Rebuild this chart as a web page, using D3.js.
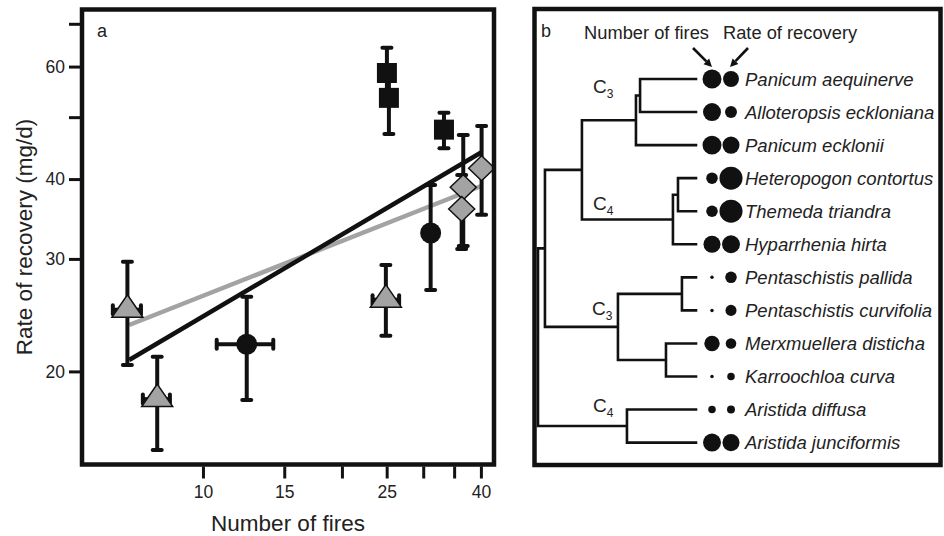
<!DOCTYPE html>
<html>
<head>
<meta charset="utf-8">
<script src="https://cdn.jsdelivr.net/npm/d3@7"></script>
<style>
  html, body { margin: 0; padding: 0; background: #fff; }
  svg { display: block; font-family: "Liberation Sans", Arial, Helvetica, sans-serif; }
</style>
</head>
<body>
<svg id="chart" width="944" height="536"></svg>
<script>
// ---------- Panel a: recovery rate vs. number of fires (log–log) ----------
const pointShape   = ["triangle", "triangle", "circle", "triangle", "square", "square", "circle", "square", "diamond", "diamond", "diamond"];
const fires        = [6.86, 7.96, 12.44, 24.9, 25.03, 25.28, 31.13, 33.27, 36.63, 36.34, 40.14];
const firesLow     = [6.38, 7.41, 10.71, 23.3, null, null, null, null, null, null, null];
const firesHigh    = [7.34, 8.48, 14.2, 26.6, null, null, null, null, null, null, null];
const recovery     = [24.98, 18.1, 22.06, 25.9, 58.63, 53.6, 32.93, 47.8, 38.85, 35.9, 41.6];
const recoveryLow  = [20.47, 15.07, 18.05, 22.75, 55.0, 47.06, 26.82, 44.7, 31.43, 31.1, 35.16];
const recoveryHigh = [29.7, 21.09, 26.18, 29.36, 64.2, 57.0, 39.17, 50.8, 46.9, 40.6, 48.45];

// fitted lines (end points)
const fitX        = [6.92, 40.2];
const fitAllY     = [20.84, 44.1];
const fitSubsetY  = [23.64, 39.05];

const xTickValues = [10, 15, 20, 25, 30, 35, 40];
const xTickLabels = [10, 15, 25, 40];
const yTickValues = [20, 30, 40, 50, 60, 70];
const yTickLabels = [20, 30, 40, 60];

// ---------- Panel b: phylogeny with trait dots ----------
const species = [
  "Panicum aequinerve", "Alloteropsis eckloniana", "Panicum ecklonii",
  "Heteropogon contortus", "Themeda triandra", "Hyparrhenia hirta",
  "Pentaschistis pallida", "Pentaschistis curvifolia", "Merxmuellera disticha",
  "Karroochloa curva", "Aristida diffusa", "Aristida junciformis"
];
// relative scores (0–100) shown as dot area
const fireScore     = [68, 61, 68, 25, 25, 55, 2.3, 2.3, 45, 2.3, 10.6, 61];
const recoveryScore = [48, 27, 55, 100, 100, 61, 25, 23, 21, 10.6, 12, 55];

// node depth h (0 = root, 1 = tips)
const tree = { h: 0, children: [
  { h: 0.044, children: [
    { h: 0.278, children: [
      { h: 0.62, children: [
        { h: 0.646, children: [{ name: "Panicum aequinerve" }, { name: "Alloteropsis eckloniana" }] },
        { name: "Panicum ecklonii" }
      ] },
      { h: 0.854, children: [
        { h: 0.886, children: [{ name: "Heteropogon contortus" }, { name: "Themeda triandra" }] },
        { name: "Hyparrhenia hirta" }
      ] }
    ] },
    { h: 0.506, children: [
      { h: 0.911, children: [{ name: "Pentaschistis pallida" }, { name: "Pentaschistis curvifolia" }] },
      { h: 0.81, children: [{ name: "Merxmuellera disticha" }, { name: "Karroochloa curva" }] }
    ] }
  ] },
  { h: 0.563, children: [{ name: "Aristida diffusa" }, { name: "Aristida junciformis" }] }
] };

const cladeLabels = [
  { sub: "3", x: 593, y: 93 },
  { sub: "4", x: 593, y: 210 },
  { sub: "3", x: 592, y: 315 },
  { sub: "4", x: 593, y: 412 }
];

const svg = d3.select("#chart");
const INK = "#111";
const TEXT = "#222";
const GREY = "#a3a3a3";

// =================== Panel a ===================
const A = { left: 82, top: 9.5, right: 494, bottom: 464.5 };
const x = d3.scaleLog().domain([5.47, 42.7]).range([A.left, A.right]);
const y = d3.scaleLog().domain([14.3, 73.7]).range([A.bottom, A.top]);

const pa = svg.append("g");

// axes (ticks outside the frame)
const xAxis = d3.axisBottom(x)
  .tickValues(xTickValues)
  .tickFormat(d => xTickLabels.includes(d) ? d : "")
  .tickSize(12).tickPadding(7);
const gx = pa.append("g").attr("transform", `translate(0,${A.bottom + 2})`).call(xAxis);
gx.select(".domain").remove();
gx.selectAll(".tick line").attr("stroke", INK).attr("stroke-width", 3);
gx.selectAll(".tick text").attr("fill", TEXT).attr("font-size", 17.5).attr("font-family", "Liberation Sans, Arial, sans-serif");

const yAxis = d3.axisLeft(y)
  .tickValues(yTickValues)
  .tickFormat(d => yTickLabels.includes(d) ? d : "")
  .tickSize(11).tickPadding(4);
const gy = pa.append("g").attr("transform", `translate(${A.left - 2},0)`).call(yAxis);
gy.select(".domain").remove();
gy.selectAll(".tick line").attr("stroke", INK).attr("stroke-width", 3);
gy.selectAll(".tick text").attr("fill", TEXT).attr("font-size", 17.5).attr("font-family", "Liberation Sans, Arial, sans-serif");

// axis titles
pa.append("text")
  .attr("x", (A.left + A.right) / 2).attr("y", 530.5)
  .attr("text-anchor", "middle").attr("font-size", 22.5).attr("fill", TEXT)
  .text("Number of fires");
pa.append("text")
  .attr("transform", `translate(32,${(A.top + A.bottom) / 2}) rotate(-90)`)
  .attr("text-anchor", "middle").attr("font-size", 22.5).attr("fill", TEXT)
  .text("Rate of recovery (mg/d)");

pa.append("text").attr("x", 97).attr("y", 37).attr("font-size", 18).attr("fill", TEXT).text("a");

// fitted lines
const fitLine = d3.line().x(d => x(d[0])).y(d => y(d[1]));
pa.append("path")
  .attr("d", fitLine(d3.zip(fitX, fitSubsetY)))
  .attr("stroke", GREY).attr("stroke-width", 4.5).attr("fill", "none");
pa.append("path")
  .attr("d", fitLine(d3.zip(fitX, fitAllY)))
  .attr("stroke", INK).attr("stroke-width", 4.5).attr("fill", "none");

// error bars
const points = fires.map((f, i) => ({
  f, r: recovery[i], fl: firesLow[i], fh: firesHigh[i],
  rl: recoveryLow[i], rh: recoveryHigh[i], shape: pointShape[i]
}));
const eb = pa.append("g").attr("stroke", INK).attr("fill", "none");
const CAP = 4.5;
points.forEach(p => {
  const cx = x(p.f), cy = y(p.r);
  eb.append("line").attr("x1", cx).attr("x2", cx).attr("y1", y(p.rl)).attr("y2", y(p.rh)).attr("stroke-width", 4);
  [p.rl, p.rh].forEach(v => {
    eb.append("line").attr("x1", cx - CAP).attr("x2", cx + CAP).attr("y1", y(v)).attr("y2", y(v))
      .attr("stroke-width", 4).attr("stroke-linecap", "round");
  });
  if (p.fl != null) {
    eb.append("line").attr("x1", x(p.fl)).attr("x2", x(p.fh)).attr("y1", cy).attr("y2", cy).attr("stroke-width", 4);
    [p.fl, p.fh].forEach(v => {
      eb.append("line").attr("x1", x(v)).attr("x2", x(v)).attr("y1", cy - CAP).attr("y2", cy + CAP)
        .attr("stroke-width", 4).attr("stroke-linecap", "round");
    });
  }
});

// marker shapes
const triangleType = { draw(c) { const w = 31, h = 22.5; c.moveTo(0, -2 * h / 3); c.lineTo(w / 2, h / 3); c.lineTo(-w / 2, h / 3); c.closePath(); } };
const diamondType  = { draw(c) { const a = 13, b = 12.5; c.moveTo(0, -b); c.lineTo(a, 0); c.lineTo(0, b); c.lineTo(-a, 0); c.closePath(); } };
const squareType   = { draw(c) { const s = 10; c.moveTo(-s, -s); c.lineTo(s, -s); c.lineTo(s, s); c.lineTo(-s, s); c.closePath(); } };
const circleType   = { draw(c) { const r = 10.5; c.moveTo(r, 0); c.arc(0, 0, r, 0, 2 * Math.PI); } };
const shapeStyle = {
  triangle: { type: triangleType, fill: GREY, stroke: INK },
  diamond:  { type: diamondType,  fill: GREY, stroke: INK },
  square:   { type: squareType,   fill: INK,  stroke: "none" },
  circle:   { type: circleType,   fill: INK,  stroke: "none" }
};
pa.append("g").selectAll("path").data(points).join("path")
  .attr("transform", d => `translate(${x(d.f)},${y(d.r)})`)
  .attr("d", d => d3.symbol().type(shapeStyle[d.shape].type)())
  .attr("fill", d => shapeStyle[d.shape].fill)
  .attr("stroke", d => shapeStyle[d.shape].stroke)
  .attr("stroke-width", 1.5);

// frame
pa.append("rect")
  .attr("x", A.left).attr("y", A.top)
  .attr("width", A.right - A.left).attr("height", A.bottom - A.top)
  .attr("fill", "none").attr("stroke", INK).attr("stroke-width", 4.5);

// =================== Panel b ===================
const B = { left: 534.5, top: 9, right: 940.5, bottom: 465 };
const pb = svg.append("g");
pb.append("rect")
  .attr("x", B.left).attr("y", B.top)
  .attr("width", B.right - B.left).attr("height", B.bottom - B.top)
  .attr("fill", "none").attr("stroke", INK).attr("stroke-width", 4.5);
pb.append("text").attr("x", 541).attr("y", 37).attr("font-size", 18).attr("fill", TEXT).text("b");

const tx = d3.scaleLinear().domain([0, 1]).range([538, 696]);
const ty = d3.scalePoint().domain(species).range([79, 442.6]);

const root = d3.hierarchy(tree);
root.eachAfter(n => {
  n.px = tx(n.children ? n.data.h : 1);
  n.py = n.children ? (n.children[0].py + n.children[n.children.length - 1].py) / 2 : ty(n.data.name);
});
const branches = [];
root.each(n => {
  if (n.parent) branches.push(`M${n.parent.px},${n.py}H${n.px}`);
  if (n.children) branches.push(`M${n.px},${n.children[0].py}V${n.children[n.children.length - 1].py}`);
});
pb.append("path")
  .attr("d", branches.join(""))
  .attr("fill", "none").attr("stroke", INK).attr("stroke-width", 2.6).attr("stroke-linecap", "square");

// trait dots
const col1 = 712, col2 = 731;
const rScale = d3.scaleSqrt().domain([0, 100]).range([0, 11.5]);
const dots = pb.append("g").attr("fill", INK);
species.forEach((s, i) => {
  dots.append("circle").attr("cx", col1).attr("cy", ty(s)).attr("r", rScale(fireScore[i]));
  dots.append("circle").attr("cx", col2).attr("cy", ty(s)).attr("r", rScale(recoveryScore[i]));
});

// species names
pb.append("g").selectAll("text").data(species).join("text")
  .attr("x", 745).attr("y", d => ty(d)).attr("dy", "0.36em")
  .attr("font-size", 18.5).attr("font-style", "italic").attr("fill", TEXT)
  .text(d => d);

// column headings with arrows
pb.append("text").attr("x", col1 - 3).attr("y", 38.5).attr("text-anchor", "end")
  .attr("font-size", 18.3).attr("fill", TEXT).text("Number of fires");
pb.append("text").attr("x", col2 - 8).attr("y", 38.5)
  .attr("font-size", 18.3).attr("fill", TEXT).text("Rate of recovery");

function arrow(x1, y1, x2, y2) {
  const ang = Math.atan2(y2 - y1, x2 - x1);
  const L = 8, W = 4;
  const bx = x2 - L * Math.cos(ang), by = y2 - L * Math.sin(ang);
  pb.append("line").attr("x1", x1).attr("y1", y1).attr("x2", bx).attr("y2", by)
    .attr("stroke", INK).attr("stroke-width", 2.6);
  const px = -Math.sin(ang) * W, py = Math.cos(ang) * W;
  pb.append("path")
    .attr("d", `M${x2},${y2}L${bx + px},${by + py}L${bx - px},${by - py}Z`)
    .attr("fill", INK);
}
arrow(col1 - 19, 48, col1, 67);
arrow(col2 + 17, 48, col2 - 1, 67);

// photosynthetic pathway labels
cladeLabels.forEach(c => {
  const t = pb.append("text").attr("x", c.x).attr("y", c.y).attr("font-size", 19).attr("fill", TEXT);
  t.append("tspan").text("C");
  t.append("tspan").attr("font-size", 12).attr("dy", 5).text(c.sub);
});
</script>
</body>
</html>
